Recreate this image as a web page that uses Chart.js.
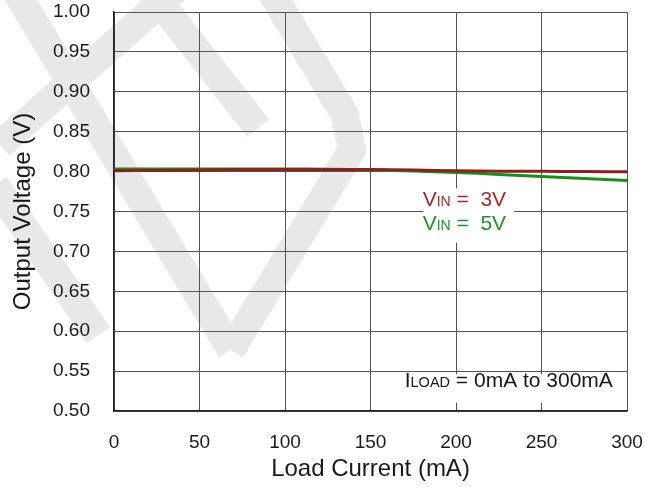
<!DOCTYPE html>
<html>
<head>
<meta charset="utf-8">
<script src="https://cdn.jsdelivr.net/npm/chart.js@4/dist/chart.umd.min.js"></script>
<style>
	html, body { margin: 0; padding: 0; background: #fff; }
	#wrap { width: 658px; height: 488px; }
</style>
</head>
<body>
<div id="wrap"><canvas id="chart" width="658" height="488"></canvas></div>
<script>
"use strict";


const loadCurrent = [0, 25, 50, 75, 100, 125, 150, 175, 200, 225, 250, 275, 300];
const vout3V = [0.801, 0.8015, 0.802, 0.8025, 0.8025, 0.8025, 0.8025, 0.802, 0.801, 0.8005, 0.8003, 0.8, 0.7998];
const vout5V = [0.8032, 0.8033, 0.8033, 0.8033, 0.8032, 0.803, 0.802, 0.8007, 0.799, 0.7965, 0.794, 0.7915, 0.789];

const redColor = "#8e1f1f";
const greenColor = "#1f8a22";
const textColor = "#1a1a1a";
const fontFamily = "'Liberation Sans', Arial, sans-serif";


function points(ys) {
	return ys.map((y, i) => ({ x: loadCurrent[i], y: y }));
}


// faint logo behind the plot
const watermark = {
	id: "watermark",
	beforeDraw(chart) {
		const ctx = chart.ctx;
		ctx.save();
		ctx.fillStyle = "#fff";
		ctx.fillRect(0, 0, chart.width, chart.height);
		ctx.strokeStyle = "#e8e8e8";
		ctx.lineWidth = 28;
		ctx.lineJoin = "round";
		const bands = [
			[[15, -10], [231, 350]],
			[[270, -10], [345, 115], [352, 150], [231, 350]],
			[[150, -10], [258, 128]],
			[[175, -10], [0, 145]],
			[[-5, 185], [98, 335]],
		];
		for (const band of bands) {
			ctx.beginPath();
			band.forEach(([x, y], i) => i ? ctx.lineTo(x, y) : ctx.moveTo(x, y));
			ctx.stroke();
		}
		ctx.restore();
	}
};


// text with a small same-baseline subscript, e.g. V IN
function drawParts(ctx, x, y, parts, color) {
	ctx.fillStyle = color;
	ctx.textBaseline = "alphabetic";
	ctx.textAlign = "left";
	for (const [txt, size] of parts) {
		ctx.font = size + "px " + fontFamily;
		ctx.fillText(txt, x, y);
		x += ctx.measureText(txt).width;
	}
}


const notes = {
	id: "notes",
	afterDatasetsDraw(chart) {
		const ctx = chart.ctx;
		const xs = chart.scales.x;
		const ys = chart.scales.y;
		ctx.save();

		ctx.fillStyle = "#fff";
		let l = xs.getPixelForValue(181), r = xs.getPixelForValue(234);
		let t = ys.getPixelForValue(0.779), b = ys.getPixelForValue(0.711);
		ctx.fillRect(l, t, r - l, b - t);

		l = xs.getPixelForValue(168); r = xs.getPixelForValue(297);
		t = ys.getPixelForValue(0.546); b = ys.getPixelForValue(0.5105);
		ctx.fillRect(l, t, r - l, b - t);

		const x0 = xs.getPixelForValue(180.5);
		drawParts(ctx, x0, ys.getPixelForValue(0.7575),
			[["V", 21], ["IN", 14], [" =  3V", 21]], "#9a2e2e");
		drawParts(ctx, x0, ys.getPixelForValue(0.7265),
			[["V", 21], ["IN", 14], [" =  5V", 21]], "#2a8a3a");
		drawParts(ctx, xs.getPixelForValue(170), ys.getPixelForValue(0.5295),
			[["I", 21], ["LOAD", 14.5], [" = 0mA to 300mA", 21]], textColor);
		ctx.restore();
	}
};


function setup_chart() {
	const ctx = document.getElementById("chart").getContext("2d");
	const config = {
		type: "line",
		data: {
			datasets: [
				{ label: "VIN = 3V", data: points(vout3V), borderColor: redColor },
				{ label: "VIN = 5V", data: points(vout5V), borderColor: greenColor },
			].map(set => ({
				borderWidth: 3,
				pointRadius: 0,
				tension: 0.3,
				fill: false,
				...set,
			})),
		},
		options: {
			responsive: false,
			animation: false,
			layout: {
				padding: { top: 12, right: 31, left: 0, bottom: 0 },
			},
			plugins: {
				legend: { display: false },
				tooltip: { enabled: false },
			},
			scales: {
				x: {
					type: "linear",
					min: 0,
					max: 300,
					afterFit: scale => {
						scale.height = 77;
						scale.paddingLeft = 0;
						scale.paddingRight = 0;
					},
					ticks: {
						stepSize: 50,
						padding: 20,
						color: textColor,
						font: { family: fontFamily, size: 19 },
					},
					grid: { color: "#555", lineWidth: 1, drawTicks: false },
					border: { color: "#222", width: 1.5 },
					title: {
						display: true,
						text: "Load Current (mA)",
						color: textColor,
						font: { family: fontFamily, size: 24 },
						padding: { top: 0, bottom: 4 },
					},
				},
				y: {
					min: 0.5,
					max: 1.0,
					afterFit: scale => {
						scale.width = 114;
						scale.paddingTop = 0;
						scale.paddingBottom = 0;
					},
					ticks: {
						stepSize: 0.05,
						padding: 24,
						color: textColor,
						font: { family: fontFamily, size: 19 },
						callback: v => v.toFixed(2),
					},
					grid: { color: "#555", lineWidth: 1, drawTicks: false },
					border: { color: "#222", width: 1.5 },
					title: {
						display: true,
						text: "Output Voltage (V)",
						color: textColor,
						font: { family: fontFamily, size: 24 },
						padding: { top: 9, bottom: 0 },
					},
				},
			},
		},
		plugins: [watermark, notes],
	};
	new Chart(ctx, config);
}


setup_chart();
</script>
</body>
</html>
